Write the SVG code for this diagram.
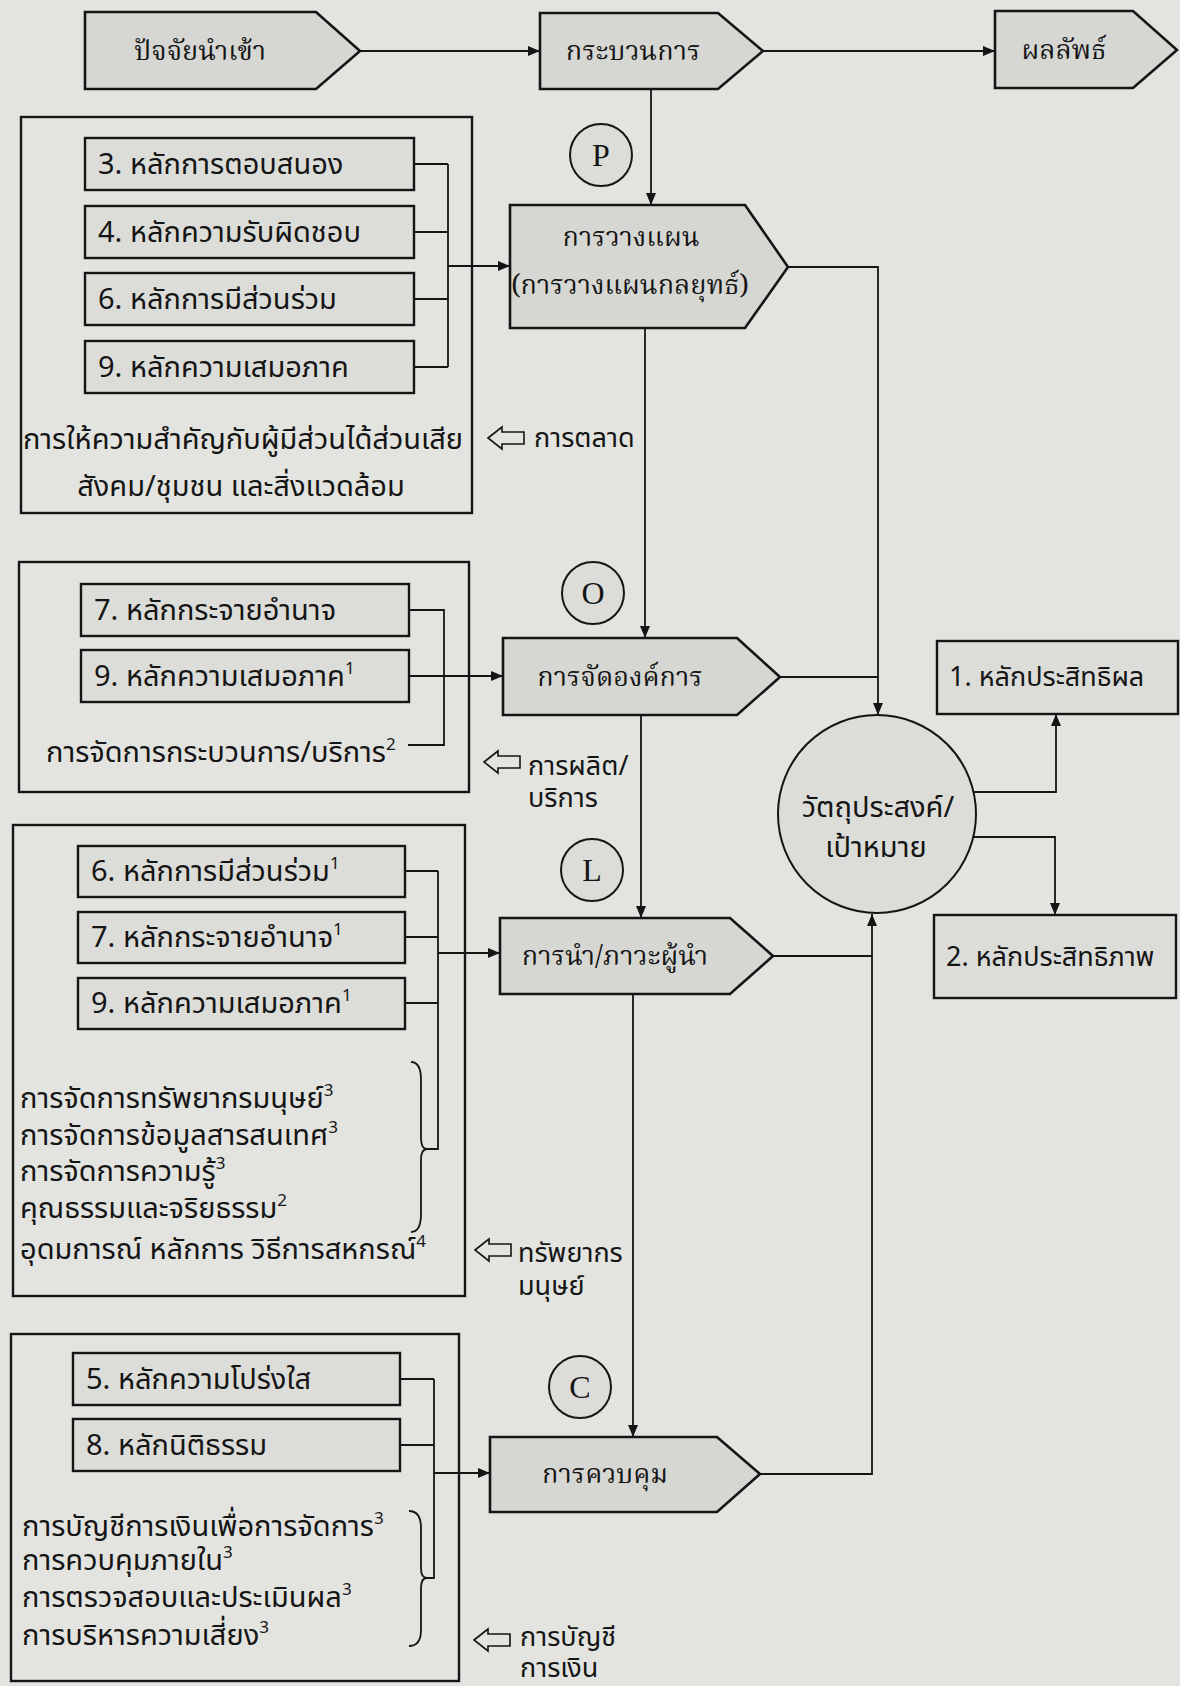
<svg xmlns="http://www.w3.org/2000/svg" width="1180" height="1686" viewBox="0 0 1180 1686">
  <defs>
    <marker id="arr" markerUnits="userSpaceOnUse" markerWidth="13" markerHeight="10" refX="12" refY="5" orient="auto">
      <path d="M0,0 L12,5 L0,10 Z" fill="#151515"/>
    </marker>
    <path id="hollow" d="M0,0 L14,-11 L14,-6 L36,-6 L36,6 L14,6 L14,11 Z"/>
  </defs>
  <style>
    .bg { fill: #e3e4e0; }
    .node { fill: #d6d7d3; stroke: #151515; stroke-width: 2.6; stroke-linejoin: miter; }
    .item { fill: #dcddd9; stroke: #151515; stroke-width: 2.4; }
    .frame { fill: none; stroke: #151515; stroke-width: 2.4; }
    .ring { fill: #dcddd9; stroke: #151515; stroke-width: 2; }
    .wire { fill: none; stroke: #151515; stroke-width: 1.8; }
    .hol { fill: #e3e4e0; stroke: #151515; stroke-width: 1.6; }
    text { fill: #151515; }
    .head { font-family: "Noto Serif Thai", "Norasi", "Kinnari", "Noto Sans Thai", "Loma", serif; font-size: 27px; text-anchor: middle; }
    .sans { font-family: "Noto Sans Thai", "Loma", "Garuda", "Liberation Sans", sans-serif; font-size: 29px; }
    .side { font-size: 27px; }
    .mid { text-anchor: middle; }
    .letter { font-family: "Liberation Serif", serif; font-size: 32px; text-anchor: middle; }
    .sup { font-size: 17px; }
  </style>

  <rect class="bg" x="0" y="0" width="1180" height="1686"/>

  <!-- connectors -->
  <g id="connectors">
    <line class="wire" x1="360" y1="51" x2="540" y2="51" marker-end="url(#arr)"/>
    <line class="wire" x1="763" y1="51" x2="995" y2="51" marker-end="url(#arr)"/>
    <line class="wire" x1="651" y1="89" x2="651" y2="205" marker-end="url(#arr)"/>
    <line class="wire" x1="645" y1="328" x2="645" y2="638" marker-end="url(#arr)"/>
    <line class="wire" x1="641" y1="715" x2="641" y2="918" marker-end="url(#arr)"/>
    <line class="wire" x1="633" y1="994" x2="633" y2="1437" marker-end="url(#arr)"/>
    <!-- group 1 bracket -->
    <path class="wire" d="M414,164 H448 M414,232 H448 M414,299 H448 M414,367 H448 M448,164 V367"/>
    <line class="wire" x1="448" y1="266" x2="510" y2="266" marker-end="url(#arr)"/>
    <!-- group 2 bracket -->
    <path class="wire" d="M409,610 H444 V745 H408"/>
    <line class="wire" x1="409" y1="676" x2="503" y2="676" marker-end="url(#arr)"/>
    <!-- group 3 bracket -->
    <path class="wire" d="M405,871 H438 M405,937 H438 M405,1003 H438 M438,871 V1149 H426"/>
    <path class="wire" d="M411,1062 Q421,1062 421,1080 V1138 Q421,1149 427,1149 Q421,1149 421,1160 V1214 Q421,1232 411,1232"/>
    <line class="wire" x1="438" y1="953" x2="500" y2="953" marker-end="url(#arr)"/>
    <!-- group 4 bracket -->
    <path class="wire" d="M400,1379 H434 M400,1445 H434 M434,1379 V1578 H426"/>
    <path class="wire" d="M409,1511 Q421,1511 421,1528 V1568 Q421,1578 427,1578 Q421,1578 421,1588 V1630 Q421,1646 409,1646"/>
    <line class="wire" x1="434" y1="1473" x2="490" y2="1473" marker-end="url(#arr)"/>
    <!-- into the objective circle -->
    <path class="wire" d="M788,267 H878 V715" marker-end="url(#arr)"/>
    <line class="wire" x1="780" y1="677" x2="878" y2="677"/>
    <line class="wire" x1="773" y1="956" x2="872" y2="956"/>
    <path class="wire" d="M760,1474 H872 V914" marker-end="url(#arr)"/>
    <!-- out of the objective circle -->
    <path class="wire" d="M973,792 H1056 V714" marker-end="url(#arr)"/>
    <path class="wire" d="M973,837 H1055 V915" marker-end="url(#arr)"/>
  </g>

  <!-- top row -->
  <g id="input">
    <path class="node" d="M85,12 H316 L360,51 L316,89 H85 Z"/>
    <text class="head" x="200" y="60">ปัจจัยนำเข้า</text>
  </g>
  <g id="process">
    <path class="node" d="M540,13 H718 L763,51 L718,89 H540 Z"/>
    <text class="head" x="633" y="60">กระบวนการ</text>
  </g>
  <g id="output">
    <path class="node" d="M995,11 H1133 L1177,50 L1133,88 H995 Z"/>
    <text class="head" x="1064" y="59">ผลลัพธ์</text>
  </g>

  <!-- P : planning -->
  <g id="p-mark">
    <circle class="ring" cx="601" cy="155" r="31"/>
    <text class="letter" x="601" y="166">P</text>
  </g>
  <g id="planning">
    <path class="node" d="M510,205 H745 L788,267 L745,328 H510 Z"/>
    <text class="head" x="631" y="246">การวางแผน</text>
    <text class="head" x="630" y="294">(การวางแผนกลยุทธ์)</text>
  </g>
  <g id="planning-principles">
    <rect class="frame" x="21" y="117" width="451" height="396"/>
    <rect class="item" x="85" y="138" width="329" height="52"/>
    <text class="sans" x="98" y="174">3. หลักการตอบสนอง</text>
    <rect class="item" x="85" y="206" width="329" height="52"/>
    <text class="sans" x="98" y="242">4. หลักความรับผิดชอบ</text>
    <rect class="item" x="85" y="273" width="329" height="52"/>
    <text class="sans" x="98" y="309">6. หลักการมีส่วนร่วม</text>
    <rect class="item" x="85" y="341" width="329" height="52"/>
    <text class="sans" x="98" y="377">9. หลักความเสมอภาค</text>
    <text class="sans mid" x="243" y="449">การให้ความสำคัญกับผู้มีส่วนได้ส่วนเสีย</text>
    <text class="sans mid" x="241" y="496">สังคม/ชุมชน และสิ่งแวดล้อม</text>
  </g>
  <g id="marketing">
    <use href="#hollow" class="hol" x="488" y="438"/>
    <text class="sans side" x="534" y="447">การตลาด</text>
  </g>

  <!-- O : organizing -->
  <g id="o-mark">
    <circle class="ring" cx="593" cy="593" r="31"/>
    <text class="letter" x="593" y="604">O</text>
  </g>
  <g id="organizing">
    <path class="node" d="M503,638 H737 L780,677 L737,715 H503 Z"/>
    <text class="head" x="620" y="686">การจัดองค์การ</text>
  </g>
  <g id="organizing-principles">
    <rect class="frame" x="19" y="562" width="450" height="230"/>
    <rect class="item" x="81" y="584" width="328" height="52"/>
    <text class="sans" x="94" y="620">7. หลักกระจายอำนาจ</text>
    <rect class="item" x="81" y="650" width="328" height="52"/>
    <text class="sans" x="94" y="686">9. หลักความเสมอภาค<tspan class="sup" dy="-12">1</tspan></text>
    <text class="sans" x="46" y="762">การจัดการกระบวนการ/บริการ<tspan class="sup" dy="-12">2</tspan></text>
  </g>
  <g id="production">
    <use href="#hollow" class="hol" x="484" y="762"/>
    <text class="sans side" x="528" y="775">การผลิต/</text>
    <text class="sans side" x="528" y="807">บริการ</text>
  </g>

  <!-- L : leading -->
  <g id="l-mark">
    <circle class="ring" cx="592" cy="870" r="31"/>
    <text class="letter" x="592" y="881">L</text>
  </g>
  <g id="leading">
    <path class="node" d="M500,918 H730 L773,956 L730,994 H500 Z"/>
    <text class="head" x="615" y="965">การนำ/ภาวะผู้นำ</text>
  </g>
  <g id="leading-principles">
    <rect class="frame" x="13" y="825" width="452" height="471"/>
    <rect class="item" x="78" y="846" width="327" height="51"/>
    <text class="sans" x="91" y="881">6. หลักการมีส่วนร่วม<tspan class="sup" dy="-12">1</tspan></text>
    <rect class="item" x="78" y="912" width="327" height="51"/>
    <text class="sans" x="91" y="947">7. หลักกระจายอำนาจ<tspan class="sup" dy="-12">1</tspan></text>
    <rect class="item" x="78" y="978" width="327" height="51"/>
    <text class="sans" x="91" y="1013">9. หลักความเสมอภาค<tspan class="sup" dy="-12">1</tspan></text>
    <text class="sans" x="20" y="1108">การจัดการทรัพยากรมนุษย์<tspan class="sup" dy="-12">3</tspan></text>
    <text class="sans" x="20" y="1145">การจัดการข้อมูลสารสนเทศ<tspan class="sup" dy="-12">3</tspan></text>
    <text class="sans" x="20" y="1181">การจัดการความรู้<tspan class="sup" dy="-12">3</tspan></text>
    <text class="sans" x="20" y="1218">คุณธรรมและจริยธรรม<tspan class="sup" dy="-12">2</tspan></text>
    <text class="sans" x="20" y="1259">อุดมการณ์ หลักการ วิธีการสหกรณ์<tspan class="sup" dy="-12">4</tspan></text>
  </g>
  <g id="human-resources">
    <use href="#hollow" class="hol" x="475" y="1250"/>
    <text class="sans side" x="518" y="1262">ทรัพยากร</text>
    <text class="sans side" x="518" y="1295">มนุษย์</text>
  </g>

  <!-- C : controlling -->
  <g id="c-mark">
    <circle class="ring" cx="580" cy="1387" r="31"/>
    <text class="letter" x="580" y="1398">C</text>
  </g>
  <g id="controlling">
    <path class="node" d="M490,1437 H717 L760,1474 L717,1512 H490 Z"/>
    <text class="head" x="605" y="1483">การควบคุม</text>
  </g>
  <g id="controlling-principles">
    <rect class="frame" x="11" y="1334" width="448" height="347"/>
    <rect class="item" x="73" y="1353" width="327" height="52"/>
    <text class="sans" x="86" y="1389">5. หลักความโปร่งใส</text>
    <rect class="item" x="73" y="1419" width="327" height="52"/>
    <text class="sans" x="86" y="1455">8. หลักนิติธรรม</text>
    <text class="sans" x="22" y="1536">การบัญชีการเงินเพื่อการจัดการ<tspan class="sup" dy="-12">3</tspan></text>
    <text class="sans" x="22" y="1570">การควบคุมภายใน<tspan class="sup" dy="-12">3</tspan></text>
    <text class="sans" x="22" y="1607">การตรวจสอบและประเมินผล<tspan class="sup" dy="-12">3</tspan></text>
    <text class="sans" x="22" y="1645">การบริหารความเสี่ยง<tspan class="sup" dy="-12">3</tspan></text>
  </g>
  <g id="accounting">
    <use href="#hollow" class="hol" x="474" y="1640"/>
    <text class="sans side" x="520" y="1646">การบัญชี</text>
    <text class="sans side" x="520" y="1677">การเงิน</text>
  </g>

  <!-- objective and results -->
  <g id="objective">
    <circle class="ring" cx="877" cy="814" r="99"/>
    <text class="sans mid" x="878" y="817">วัตถุประสงค์/</text>
    <text class="sans mid" x="876" y="857">เป้าหมาย</text>
  </g>
  <g id="effectiveness">
    <rect class="item" x="937" y="641" width="241" height="73"/>
    <text class="sans side" x="949" y="686">1. หลักประสิทธิผล</text>
  </g>
  <g id="efficiency">
    <rect class="item" x="934" y="915" width="242" height="83"/>
    <text class="sans side" x="946" y="966">2. หลักประสิทธิภาพ</text>
  </g>
</svg>
